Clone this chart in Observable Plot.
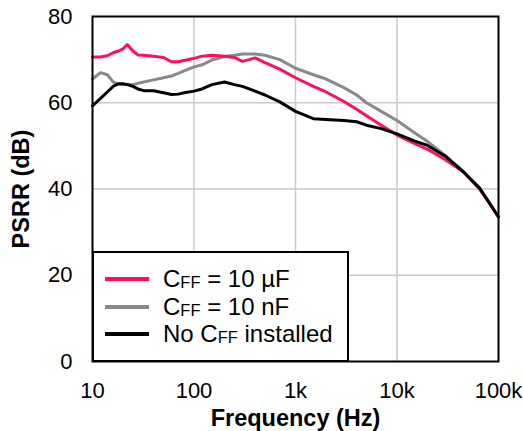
<!DOCTYPE html>
<html>
<head>
<meta charset="utf-8">
<script src="https://cdn.jsdelivr.net/npm/d3@7"></script>
<script src="https://cdn.jsdelivr.net/npm/@observablehq/plot@0.6"></script>
<style>
  html, body { margin: 0; padding: 0; background: white; }
  #wrap { position: relative; width: 523px; height: 431px; font-family: "Liberation Sans", Arial, sans-serif; }
  #legend { position: absolute; left: 92px; top: 251px; width: 257px; height: 111px; box-sizing: border-box;
            border: 2px solid black; background: white; padding-top: 12px; }
  .item { position: relative; height: 27.5px; line-height: 27.5px; font-size: 24px; padding-left: 69px; white-space: nowrap; color: #000; }
  .sw { position: absolute; left: 11px; top: 12px; width: 44px; height: 4px; }
  .item sub { font-size: 16.5px; vertical-align: -1px; line-height: 0; }
</style>
</head>
<body>
<div id="wrap"></div>
<script>
const freq = [10, 12, 14, 16, 18, 20, 22, 25, 28, 32, 40, 50, 60, 70, 80, 100, 120, 150, 200, 250, 300, 350, 400, 500, 700, 1000, 1500, 2000, 3000, 4000, 5000, 7000, 10000, 15000, 20000, 30000, 45000, 65000, 80000, 100000];
const psrr10uF = [70.6, 70.6, 70.9, 71.6, 72.0, 72.5, 73.5, 72.0, 71.1, 71.0, 70.8, 70.5, 69.5, 69.5, 69.8, 70.3, 70.8, 71.0, 70.8, 70.5, 69.6, 70.0, 70.4, 69.3, 67.8, 65.8, 63.8, 62.5, 60.3, 58.5, 57.0, 54.8, 52.5, 50.5, 49.2, 46.8, 44.0, 40.0, 37.0, 33.5];
const psrr10nF = [65.5, 67.0, 66.5, 64.8, 64.3, 64.2, 64.3, 64.2, 64.5, 64.8, 65.3, 65.8, 66.2, 66.8, 67.4, 68.3, 68.8, 69.9, 70.7, 71.0, 71.3, 71.3, 71.3, 71.0, 70.0, 68.0, 66.5, 65.5, 63.5, 61.8, 60.0, 58.0, 55.9, 53.0, 51.0, 47.7, 44.0, 40.3, 37.0, 33.5];
const psrrNone = [59.3, 61.0, 62.5, 63.8, 64.4, 64.4, 64.2, 63.8, 63.2, 62.8, 62.8, 62.3, 61.9, 62.0, 62.3, 62.7, 63.2, 64.2, 64.8, 64.2, 63.8, 63.2, 62.7, 61.8, 60.2, 58.0, 56.3, 56.1, 55.9, 55.6, 54.8, 54.0, 52.8, 51.1, 50.1, 47.6, 44.0, 40.2, 37.0, 33.5];

const seriesKeys = ["10uF", "10nF", "none"];
const seriesLabels = ["C<sub>FF</sub> = 10 µF", "C<sub>FF</sub> = 10 nF", "No C<sub>FF</sub> installed"];
const seriesColors = ["#ff0d5e", "#898989", "#000000"];
const drawOrder = ["10nF", "10uF", "none"];

const yTicks = [0, 20, 40, 60, 80];
const xTicks = [10, 100, 1000, 10000, 100000];
const xTickLabels = ["10", "100", "1k", "10k", "100k"];

const valuesByKey = { "10uF": psrr10uF, "10nF": psrr10nF, "none": psrrNone };
const data = [];
for (const k of drawOrder) freq.forEach((f, i) => data.push({ f, v: valuesByKey[k][i], s: k }));

const chart = Plot.plot({
  width: 523, height: 431,
  marginLeft: 92, marginRight: 25, marginTop: 16, marginBottom: 70,
  style: { fontFamily: "'Liberation Sans', Arial, sans-serif", background: "white", color: "black" },
  x: { type: "log", domain: [10, 100000] },
  y: { domain: [0, 80] },
  color: { domain: seriesKeys, range: seriesColors },
  marks: [
    Plot.ruleX(xTicks.slice(1, -1), { stroke: "#c9c9c9", strokeWidth: 1.5 }),
    Plot.ruleY(yTicks.slice(1, -1), { stroke: "#c9c9c9", strokeWidth: 1.5 }),
    Plot.line(data, { x: "f", y: "v", z: "s", stroke: "s", strokeWidth: 3, curve: "linear" }),
    Plot.frame({ stroke: "black", strokeWidth: 2 }),
    Plot.axisX({ ticks: xTicks, tickFormat: d => xTickLabels[xTicks.indexOf(d)], tickSize: 0, tickPadding: 21, fontSize: 22, label: null }),
    Plot.axisX({ ticks: [], tickSize: 0, label: "Frequency (Hz)", labelAnchor: "center", labelArrow: "none", labelOffset: 64, fontSize: 23.5, fontWeight: "bold" }),
    Plot.axisY({ ticks: yTicks, tickSize: 0, tickPadding: 20, fontSize: 22, label: null }),
    Plot.axisY({ ticks: [], tickSize: 0, label: "PSRR (dB)", labelAnchor: "center", labelArrow: "none", labelOffset: 80, fontSize: 23.5, fontWeight: "bold" })
  ]
});

const wrap = document.getElementById("wrap");
wrap.appendChild(chart);
const legend = document.createElement("div");
legend.id = "legend";
seriesKeys.forEach((k, i) => {
  const item = document.createElement("div");
  item.className = "item";
  item.innerHTML = `<span class="sw" style="background:${seriesColors[i]}"></span>${seriesLabels[i]}`;
  legend.appendChild(item);
});
wrap.appendChild(legend);
</script>
</body>
</html>
